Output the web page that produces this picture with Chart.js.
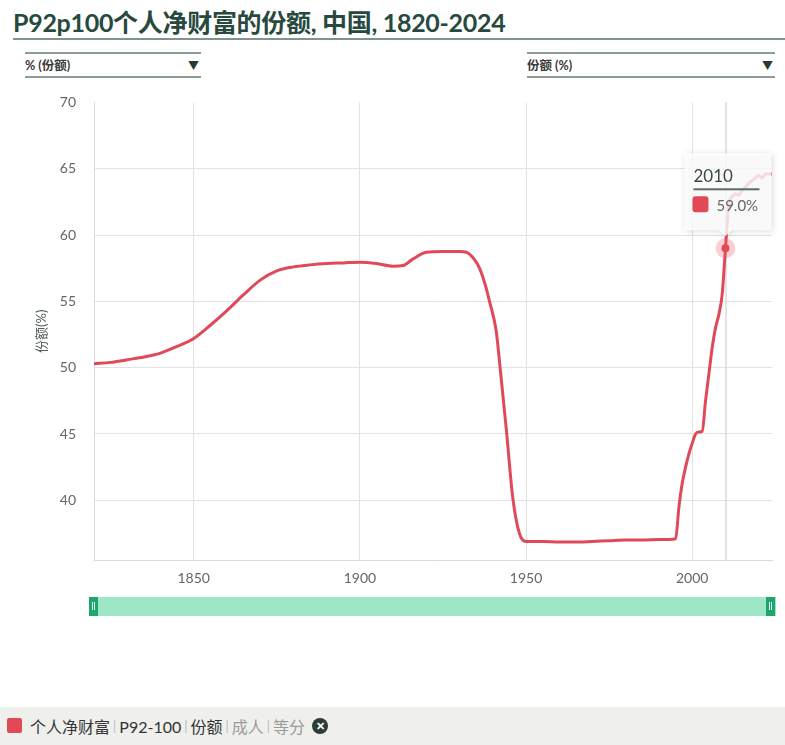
<!DOCTYPE html>
<html>
<head>
<meta charset="utf-8">
<script src="https://cdn.jsdelivr.net/npm/chart.js@4.4.1/dist/chart.umd.min.js"></script>
<style>
  body { margin: 0; width: 785px; height: 745px; background: #fff; font-family: Lato, "Noto Sans CJK SC", sans-serif; position: relative; overflow: hidden; }
  .title { position: absolute; left: 13px; top: 3px; font-size: 25px; font-weight: bold; color: #284a3e; letter-spacing: -0.3px; }
  .title-line { position: absolute; left: 13px; right: 0; top: 38px; height: 2px; background: #7f948b; }
  .dd { position: absolute; top: 52px; height: 22px; border-top: 2px solid #8a9c94; border-bottom: 2px solid #8a9c94; font-size: 12.5px; font-weight: bold; color: #3a3a3a; line-height: 23px; }
  .dd span.arrow { position: absolute; right: 2px; top: 0; font-size: 11px; color: #2a3a33; }
  #wrap { position: absolute; left: 0; top: 76px; width: 785px; height: 514px; }
  .slider { position: absolute; left: 90px; top: 597px; width: 686px; height: 19px; background: #9de6c6; }
  .handle { position: absolute; top: 597px; width: 9px; height: 19px; background: #1fa56e; }
  .handle i { position: absolute; left: 3px; top: 5px; width: 1px; height: 8px; border-left: 1px solid #dff; border-right: 1px solid #dff; }
  .legend { position: absolute; left: 0; top: 707px; width: 785px; height: 38px; background: #efefeb; font-size: 16px; color: #333; }
  .legend .sq { position: absolute; left: 7px; top: 11px; width: 15px; height: 15px; background: #e34856; border-radius: 2px; }
  .legend .txt { position: absolute; left: 30px; top: 0; height: 38px; display: flex; align-items: center; }
  .sep { color: #bbb; font-size: 13px; margin: 0 3px; }
  .dim { color: #9a9a9a; }
  .close { display: inline-block; width: 16px; height: 16px; border-radius: 50%; background: #2c3d36; color: #fff; font-size: 11px; line-height: 16px; text-align: center; font-weight: bold; margin-left: 7px; }
</style>
</head>
<body>
<div class="title">P92p100个人净财富的份额, 中国, 1820-2024</div>
<div class="title-line"></div>
<div class="dd" style="left:25px; width:176px;">% (份额)<span class="arrow">▼</span></div>
<div class="dd" style="left:527px; width:248px;">份额 (%)<span class="arrow">▼</span></div>
<div id="wrap"><canvas id="shareChart"></canvas></div>
<div class="slider"></div>
<div class="handle" style="left:89px;"><i></i></div>
<div class="handle" style="left:766px;"><i></i></div>
<div class="legend">
  <div class="sq"></div>
  <div class="txt">个人净财富<span class="sep">|</span>P92-100<span class="sep">|</span>份额<span class="sep">|</span><span class="dim">成人</span><span class="sep">|</span><span class="dim">等分</span><span class="close">✕</span></div>
</div>
<script>
// --- Data ---
const years = [1820, 1825, 1830, 1835, 1840, 1845, 1850, 1855, 1860, 1865, 1870, 1875, 1880, 1885, 1890, 1895,
    1900, 1905, 1910, 1913, 1916, 1920, 1925, 1930, 1932, 1934, 1936, 1938, 1939, 1941, 1942, 1944, 1946, 1948,
    1950, 1955, 1960, 1965, 1970, 1975, 1980, 1985, 1990, 1993, 1995, 1996, 1997, 1998, 1999, 2000, 2001, 2002,
    2003, 2004, 2005, 2006, 2007, 2008, 2009, 2010, 2011, 2012, 2013, 2014, 2015, 2016, 2017, 2018, 2019, 2020,
    2021, 2022, 2023, 2024];
const shares = [50.3, 50.4, 50.6, 50.8, 51.1, 51.6, 52.2, 53.2, 54.3, 55.5, 56.6, 57.3, 57.6, 57.75, 57.85, 57.9,
    57.95, 57.85, 57.65, 57.7, 58.2, 58.7, 58.75, 58.75, 58.7, 58.3, 57.5, 56.0, 55.0, 52.8, 50.5, 45.5, 40.2, 37.5,
    36.9, 36.9, 36.85, 36.85, 36.9, 36.95, 37.0, 37.0, 37.05, 37.05, 37.1, 39.5, 41.3, 42.5, 43.5, 44.3, 45.0, 45.15,
    45.2, 47.5, 49.5, 51.5, 53.0, 54.0, 55.5, 59.0, 62.3, 62.9, 63.1, 63.0, 63.4, 63.6, 63.9, 64.1, 64.3, 64.5,
    64.3, 64.6, 64.6, 64.6];
const xTicks = [1850, 1900, 1950, 2000];
const yTicks = [40, 45, 50, 55, 60, 65, 70];
const hoverYear = 2010;

const lineColor = '#e04a58';
const fontFamily = 'Lato, "Noto Sans CJK SC", sans-serif';

// --- Hover tooltip drawn like the original ---
const hoverPlugin = {
    id: 'hoverPlugin',
    beforeDatasetsDraw(chart) {
        const { ctx, chartArea, scales } = chart;
        const x = scales.x.getPixelForValue(hoverYear);
        ctx.save();
        ctx.strokeStyle = '#c8c8c8';
        ctx.lineWidth = 1;
        ctx.beginPath();
        ctx.moveTo(x + 0.5, chartArea.top);
        ctx.lineTo(x + 0.5, chartArea.bottom);
        ctx.stroke();
        ctx.restore();
    },
    afterDatasetsDraw(chart) {
        const { ctx } = chart;
        const idx = years.indexOf(hoverYear);
        const pt = chart.getDatasetMeta(0).data[idx];
        ctx.save();
        ctx.fillStyle = 'rgba(232, 90, 105, 0.28)';
        ctx.beginPath();
        ctx.arc(pt.x, pt.y, 10, 0, Math.PI * 2);
        ctx.fill();
        ctx.fillStyle = lineColor;
        ctx.beginPath();
        ctx.arc(pt.x, pt.y, 4, 0, Math.PI * 2);
        ctx.fill();

        // tooltip box
        const w = 87, h = 77;
        const bx = pt.x - 41, by = pt.y - 95;
        ctx.shadowColor = 'rgba(0,0,0,0.18)';
        ctx.shadowBlur = 6;
        ctx.shadowOffsetX = 1;
        ctx.shadowOffsetY = 1;
        ctx.fillStyle = 'rgba(255,255,255,0.82)';
        ctx.beginPath();
        ctx.moveTo(bx, by);
        ctx.lineTo(bx + w, by);
        ctx.lineTo(bx + w, by + h);
        ctx.lineTo(pt.x + 6, by + h);
        ctx.lineTo(pt.x, by + h + 6);
        ctx.lineTo(pt.x - 6, by + h);
        ctx.lineTo(bx, by + h);
        ctx.closePath();
        ctx.fill();
        ctx.shadowColor = 'transparent';

        ctx.fillStyle = '#3b4a44';
        ctx.font = '17px ' + fontFamily;
        ctx.textBaseline = 'alphabetic';
        ctx.fillText(String(hoverYear), bx + 9, by + 29);
        ctx.fillStyle = '#5a6b64';
        ctx.fillRect(bx + 9, by + 35, 66, 2);

        ctx.fillStyle = '#e34856';
        ctx.beginPath();
        ctx.roundRect(bx + 8, by + 43, 16, 16, 3);
        ctx.fill();
        ctx.fillStyle = '#666';
        ctx.font = '15px ' + fontFamily;
        ctx.fillText(shares[idx].toFixed(1) + '%', bx + 32, by + 58);
        ctx.restore();
    }
};

const ctx = document.getElementById('shareChart').getContext('2d');
new Chart(ctx, {
    type: 'line',
    data: {
        datasets: [{
            data: years.map((y, i) => ({ x: y, y: shares[i] })),
            borderColor: lineColor,
            borderWidth: 3,
            pointRadius: 0,
            cubicInterpolationMode: 'monotone',
            fill: false
        }]
    },
    options: {
        responsive: true,
        maintainAspectRatio: false,
        animation: false,
        layout: { padding: { top: 8, right: 13, left: 30, bottom: 0 } },
        plugins: { legend: { display: false }, tooltip: { enabled: false } },
        scales: {
            x: {
                type: 'linear',
                min: 1820,
                max: 2024,
                afterBuildTicks: scale => { scale.ticks = xTicks.map(v => ({ value: v })); },
                afterFit: scale => { scale.height = 30; },
                grid: { color: '#e2e2e2', drawTicks: false },
                border: { color: '#dcdcdc' },
                ticks: { padding: 10, color: '#666', font: { family: fontFamily, size: 14 }, maxRotation: 0, callback: v => String(v) }
            },
            y: {
                min: 35.5,
                max: 70,
                afterBuildTicks: scale => { scale.ticks = yTicks.map(v => ({ value: v })); },
                afterFit: scale => { scale.width = 64; },
                grid: { color: ctx => ctx.tick && ctx.tick.value === 70 ? 'rgba(0,0,0,0)' : '#e2e2e2', drawTicks: false },
                border: { color: '#dcdcdc' },
                ticks: { padding: 18, color: '#666', font: { family: fontFamily, size: 14 } },
                title: { display: true, text: '份额(%)', color: '#4d5d57', font: { family: fontFamily, size: 13 }, padding: { bottom: 0 } }
            }
        }
    },
    plugins: [hoverPlugin]
});
</script>
</body>
</html>
